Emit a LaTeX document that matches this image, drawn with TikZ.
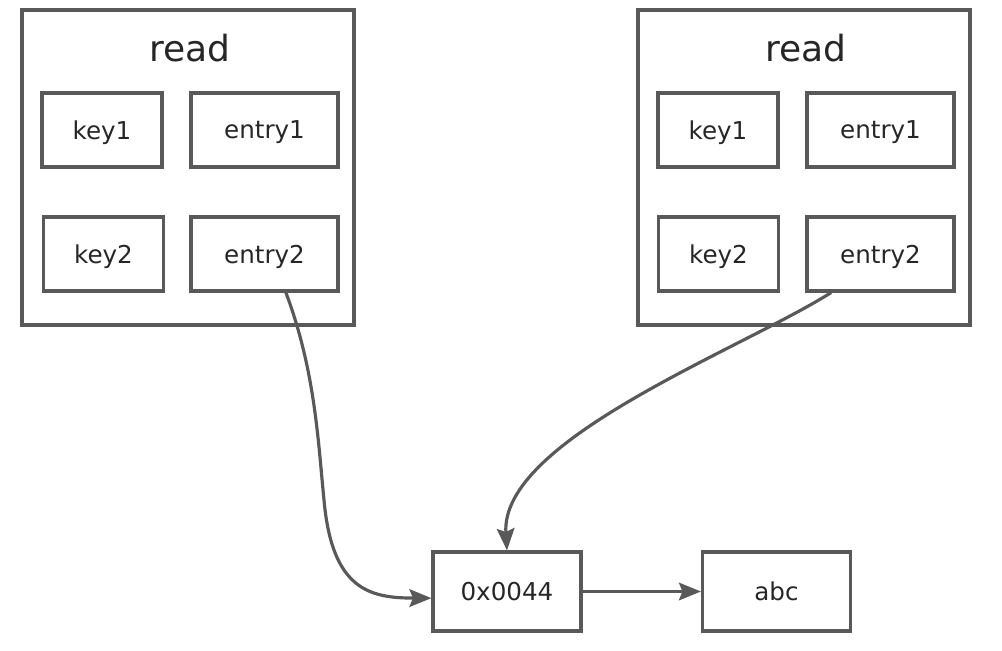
\documentclass[tikz,border=0pt]{standalone}
\usepackage{fontspec}
\setmainfont{DejaVu Sans}
\usepackage{tikz}
\usetikzlibrary{arrows.meta}
\definecolor{linegray}{HTML}{595959}
\definecolor{textgray}{HTML}{262626}

\begin{document}
\begin{tikzpicture}[x=0.02cm, y=-0.02cm, >={Stealth[length=12.5pt, width=10pt, inset=2pt]},
  box/.style={draw=linegray, line width=1.8pt, text=textgray, font=\fontsize{14}{17}\selectfont, inner sep=0pt, text depth=0pt, minimum height=1.48cm},
  keybox/.style={box, minimum width=2.4cm},
  entrybox/.style={box, minimum width=2.94cm},
  valbox/.style={box, minimum width=2.96cm, minimum height=1.58cm},
  readbox/.style={draw=linegray, line width=1.8pt, minimum width=6.64cm, minimum height=6.3cm},
  title/.style={text=textgray, font=\fontsize{20.5}{25}\selectfont},
  link/.style={->, draw=linegray, line width=1.8pt}]
  \useasboundingbox (0,0) rectangle (1002,650);
  \node[readbox] (lread) at (188,167.5) {};
  \node[title] (ltitle) at (190,48.5) {read};
  \node[keybox] (lkey1) at (102,130) {key1};
  \node[entrybox] (lentry1) at (264.5,130) {entry1};
  \node[keybox] (lkey2) at (103.5,254) {key2};
  \node[entrybox] (lentry2) at (264.5,254) {entry2};
  \node[readbox] (rread) at (804,167.5) {};
  \node[title] (rtitle) at (806,48.5) {read};
  \node[keybox] (rkey1) at (718,130) {key1};
  \node[entrybox] (rentry1) at (880.5,130) {entry1};
  \node[keybox] (rkey2) at (718.5,254) {key2};
  \node[entrybox] (rentry2) at (880.5,254) {entry2};
  \node[valbox] (addr) at (507,591.5) {0x0044};
  \node[valbox] (abc) at (776.5,591.5) {abc};
  \draw[link] (lentry2.-61) .. controls (315,370) and (318,440) .. (324,500)
    .. controls (332,590) and (370,598) .. (addr.185);
  \draw[link] (rentry2.-142.7) .. controls (740,350) and (500,440) .. (addr.north);
  \draw[link] (addr.east) -- (abc.west);
\end{tikzpicture}
\end{document}
